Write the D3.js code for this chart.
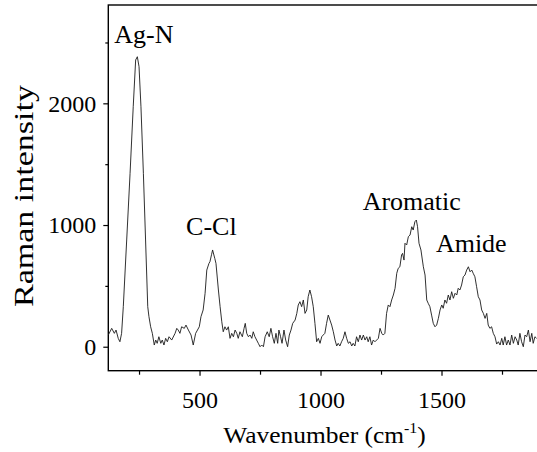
<!DOCTYPE html>
<html>
<head>
<meta charset="utf-8">
<script src="https://cdn.jsdelivr.net/npm/d3@7"></script>
<style>
  html, body { margin: 0; padding: 0; background: #fff; }
  svg { display: block; }
  text { font-family: "Liberation Serif", "Times New Roman", serif; fill: #000; }
</style>
</head>
<body>
<div id="chart"></div>
<script>
// spectrum (wavenumber in cm-1, intensity in a.u.)
const wavenumber = [
  123, 137, 148, 155, 164, 171, 178, 185, 199, 213, 226, 236, 243, 250, 258, 268, 277, 286, 291, 298,
  305, 313, 319, 325, 332, 340, 346, 353, 360, 367, 374, 385, 399, 406, 412, 419, 426, 437, 444, 454,
  465, 474, 484, 499, 506, 515, 523, 530, 539, 543, 550, 554, 563, 568, 578, 585, 592, 598, 605, 612,
  619, 626, 633, 640, 647, 654, 660, 667, 677, 684, 689, 695, 702, 709, 716, 722, 729, 736, 743, 750,
  757, 764, 771, 780, 788, 795, 802, 809, 816, 823, 828, 835, 841, 849, 856, 864, 871, 878, 885, 895,
  902, 908, 915, 922, 929, 936, 943, 949, 956, 963, 970, 977, 984, 991, 998, 1005, 1011, 1018, 1025, 1032,
  1039, 1046, 1053, 1060, 1067, 1073, 1080, 1087, 1094, 1101, 1108, 1115, 1122, 1129, 1135, 1142, 1149, 1156, 1163, 1170,
  1177, 1184, 1191, 1197, 1204, 1211, 1218, 1225, 1232, 1239, 1246, 1253, 1259, 1266, 1273, 1280, 1287, 1294, 1301, 1308,
  1315, 1321, 1328, 1335, 1339, 1345, 1349, 1356, 1363, 1370, 1377, 1383, 1390, 1396, 1401, 1407, 1415, 1425, 1432, 1439,
  1445, 1452, 1459, 1466, 1473, 1480, 1487, 1494, 1501, 1507, 1514, 1521, 1528, 1535, 1542, 1549, 1556, 1563, 1569, 1576,
  1583, 1590, 1597, 1604, 1611, 1618, 1625, 1631, 1638, 1645, 1652, 1659, 1666, 1673, 1680, 1687, 1693, 1700, 1707, 1714,
  1721, 1728, 1735, 1742, 1749, 1755, 1762, 1769, 1776, 1783, 1790, 1797, 1804, 1811, 1817, 1824, 1831, 1838, 1845, 1852,
  1859, 1866, 1873, 1879, 1886, 1893
];
const intensity = [
  96, 151, 110, 137, 69, 41, 110, 329, 877, 1425, 1972, 2356, 2383, 2301, 1972, 1425, 877, 329, 247, 164,
  110, 14, 55, 28, 82, 28, 55, 14, 69, 41, 82, 55, 110, 151, 137, 110, 164, 151, 178, 137,
  96, 14, 110, 164, 247, 302, 439, 630, 685, 698, 760, 795, 726, 685, 466, 329, 205, 123, 164, 137,
  164, 69, 110, 82, 137, 110, 69, 123, 82, 151, 192, 110, 82, 96, 69, 123, 82, 55, 28, 0,
  14, 0, 82, 123, 82, 151, 82, 28, 110, 28, 137, 82, 28, 137, 55, 0, 96, 137, 192, 219,
  274, 343, 370, 329, 384, 274, 302, 411, 466, 411, 329, 192, 41, 69, 28, 82, 96, 110, 192, 260,
  219, 178, 123, 55, 6, 28, 6, 41, 69, 123, 69, 28, 41, 6, 28, 6, 82, 41, 96, 55,
  96, 55, 82, 41, 82, 14, 55, 41, 55, 69, 151, 110, 96, 110, 274, 343, 329, 384, 425, 480,
  603, 644, 657, 754, 767, 712, 850, 836, 904, 918, 986, 959, 1027, 1041, 986, 850, 795, 657, 589, 384,
  357, 329, 260, 192, 164, 178, 233, 302, 343, 316, 384, 357, 425, 384, 452, 398, 439, 425, 480, 466,
  507, 575, 589, 630, 657, 616, 630, 603, 575, 493, 411, 384, 302, 274, 233, 274, 178, 151, 164, 110,
  82, 22, 41, 14, 69, 14, 82, 14, 55, 14, 96, 28, 82, 55, 14, 110, 41, 0, 96, 82,
  137, 41, 110, 28, 82, 69
];

// peak labels
const peakNames = ["Ag-N", "C-Cl", "Aromatic", "Amide"];
const peakX = [270, 549, 1377, 1623];
const peakY = [2498, 918, 1123, 776];

const xMajor = [500, 1000, 1500];
const xMinor = [250, 750, 1250, 1750];
const yMajor = [0, 1000, 2000];
const yMinor = [500, 1500, 2500];

const serif = "'Liberation Serif', 'Times New Roman', serif";
const width = 537, height = 452;
const margin = { top: 5, right: -1.3, bottom: 81.3, left: 108.3 };

const svg = d3.select("#chart").append("svg")
  .attr("width", width)
  .attr("height", height)
  .attr("viewBox", [0, 0, width, height]);

const x = d3.scaleLinear()
  .domain([123, 1900])
  .range([margin.left, width - margin.right]);

const y = d3.scaleLinear()
  .domain([-197, 2808])
  .range([height - margin.bottom, margin.top]);

const data = wavenumber.map((w, i) => ({ w, v: intensity[i] }));

// minor ticks first, then the labelled ones
svg.append("g")
  .attr("transform", `translate(0,${height - margin.bottom})`)
  .call(d3.axisBottom(x).tickValues(xMinor).tickSize(4).tickSizeOuter(0).tickFormat(""))
  .call(g => g.select(".domain").remove());

svg.append("g")
  .attr("transform", `translate(0,${height - margin.bottom})`)
  .attr("font-family", serif)
  .attr("font-size", 24)
  .call(d3.axisBottom(x).tickValues(xMajor).tickSize(5).tickSizeOuter(0).tickPadding(15).tickFormat(d3.format("d")))
  .attr("font-family", serif)
  .attr("font-size", 24)
  .call(g => g.select(".domain").remove())
  .call(g => g.selectAll("text").attr("fill", "#000"));

svg.append("g")
  .attr("transform", `translate(${margin.left},0)`)
  .call(d3.axisLeft(y).tickValues(yMinor).tickSize(3).tickSizeOuter(0).tickFormat(""))
  .call(g => g.select(".domain").remove());

svg.append("g")
  .attr("transform", `translate(${margin.left},0)`)
  .call(d3.axisLeft(y).tickValues(yMajor).tickSize(5).tickSizeOuter(0).tickPadding(7).tickFormat(d3.format("d")))
  .attr("font-family", serif)
  .attr("font-size", 24)
  .call(g => g.select(".domain").remove())
  .call(g => g.selectAll("text").attr("fill", "#000"));

svg.selectAll(".tick line").attr("stroke", "#000").attr("stroke-width", 1.2);

// frame
svg.append("rect")
  .attr("x", margin.left)
  .attr("y", margin.top)
  .attr("width", x.range()[1] - margin.left)
  .attr("height", height - margin.bottom - margin.top)
  .attr("fill", "none")
  .attr("stroke", "#000")
  .attr("stroke-width", 1.4);

// spectrum
const line = d3.line()
  .x(d => x(d.w))
  .y(d => y(d.v));

svg.append("path")
  .datum(data)
  .attr("fill", "none")
  .attr("stroke", "#1a1a1a")
  .attr("stroke-width", 0.9)
  .attr("stroke-linejoin", "round")
  .attr("d", line);

// peak labels
svg.append("g")
  .attr("font-family", serif)
  .selectAll("text")
  .data(peakNames)
  .join("text")
  .attr("x", (d, i) => x(peakX[i]))
  .attr("y", (d, i) => y(peakY[i]))
  .attr("text-anchor", "middle")
  .attr("font-size", 26)
  .text(d => d);

// axis titles
const xt = svg.append("text")
  .attr("text-anchor", "middle")
  .attr("font-family", serif)
  .attr("font-size", 24)
  .attr("transform", "translate(324.5,443.3) scale(1.06,1)");
xt.append("tspan").text("Wavenumber (cm");
xt.append("tspan").attr("font-size", 15).attr("dy", -10).text("-1");
xt.append("tspan").attr("dy", 10).text(")");

svg.append("text")
  .attr("text-anchor", "middle")
  .attr("font-family", serif)
  .attr("font-size", 27)
  .attr("textLength", 222)
  .attr("lengthAdjust", "spacingAndGlyphs")
  .attr("transform", "translate(33,196) rotate(-90)")
  .text("Raman intensity");
</script>
</body>
</html>
